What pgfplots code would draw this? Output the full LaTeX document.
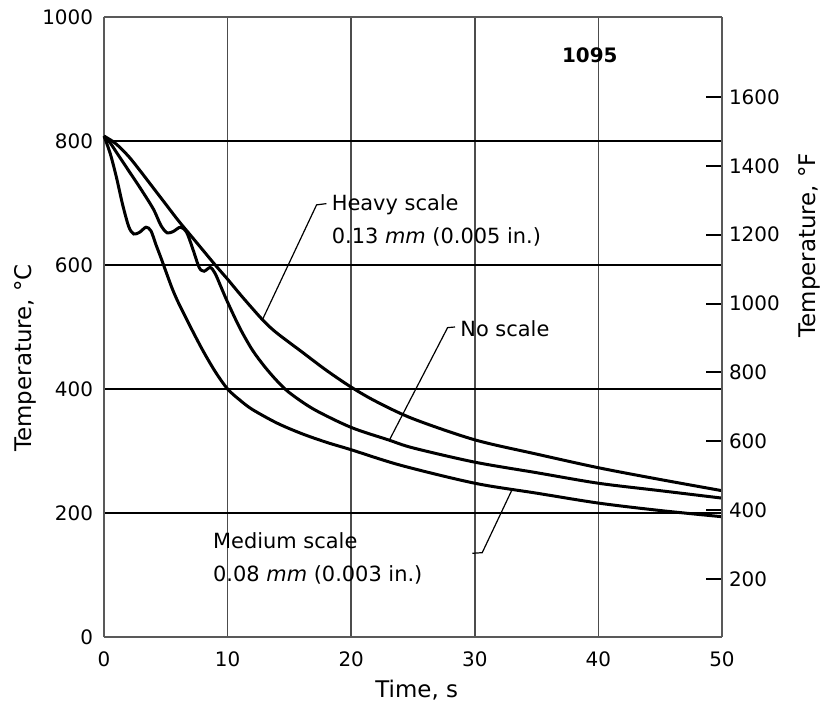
\documentclass[border=0pt]{standalone}
\usepackage{fontspec}
\setmainfont{DejaVu Sans}
\usepackage{pgfplots}
\pgfplotsset{compat=1.18}

\begin{document}
\begin{tikzpicture}
\path[use as bounding box] (-52bp,-38bp) rectangle (363.5bp,318.5bp);
\begin{axis}[
  scale only axis, width=309bp, height=310bp,
  xmin=0, xmax=50, ymin=0, ymax=1000,
  xtick={0,10,...,50}, ytick={0,200,...,1000},
  axis y line*=left, axis x line*=box,
  axis line style={black!65, line width=0.8bp},
  major tick length=0pt,
  tick label style={font=\fontsize{10}{12}\selectfont},
  xticklabel style={yshift=-4bp},
  yticklabel style={xshift=-2bp},
  /pgf/number format/assume math mode=true,
  /pgf/number format/1000 sep={},
  xmajorgrids, ymajorgrids,
  major grid style={black!70, line width=0.9bp},
  every axis y grid/.style={solid, black, line width=0.9bp},
  xlabel={Time, s}, ylabel={Temperature, °C},
  label style={font=\fontsize{11.5}{13}\selectfont},
  xlabel style={at={(axis description cs:0.506,-0.085)}, anchor=center},
  ylabel style={at={(axis description cs:-0.128,0.45)}, anchor=center},
  clip=false,
]
% medium scale (fastest)
\addplot[black, line width=1.5bp, smooth] coordinates {
 (0,808) (0.5,780) (1,742) (1.5,698) (2,662) (2.4,650) (2.9,653) (3.4,661)
 (3.8,655) (4.2,633) (4.6,612) (5,590) (5.5,563) (6,540) (7,500) (8,462)
 (9,428) (10,400) (11,382) (12,367) (14,345) (16,328) (18,314) (20,302)
 (24,277) (30,248) (35,232) (40,216) (45,204) (50,194)};
% no scale
\addplot[black, line width=1.5bp, smooth] coordinates {
 (0,808) (0.5,797) (1,782) (2,752) (3,722) (4,690) (4.6,664) (5.1,652)
 (5.6,654) (6.2,661) (6.7,652) (7.2,625) (7.7,596) (8.1,590) (8.6,596)
 (9,586) (9.5,563) (10,540) (11,498) (12,463) (13,436) (14,413) (15,394)
 (17,367) (20,338) (23,318) (25,305) (30,282) (35,265) (40,248) (45,236) (50,224)};
% heavy scale
\addplot[black, line width=1.5bp, smooth] coordinates {
 (0,808) (0.5,802) (1,795) (2,775) (3,750) (4,724) (5,698) (6,672) (7,648)
 (8,624) (9,600) (10,577) (11,553) (12,530) (13,508) (14,490) (16,460)
 (18,430) (20,403) (22,380) (25,352) (30,318) (35,295) (40,273) (45,254) (50,236)};

\draw[black, line width=0.6bp] (18.0,699) -- (17.2,697) -- (12.8,511);
\draw[black, line width=0.6bp] (28.4,500) -- (27.8,499) -- (23.1,318);
\draw[black, line width=0.6bp] (29.8,135) -- (30.6,136) -- (33.0,237);

\begin{scope}[every node/.style={anchor=west, inner sep=0pt, font=\fontsize{10.5}{12}\selectfont}]
\node at (axis cs:18.4,697) {Heavy scale};
\node at (axis cs:18.4,645) {0.13 \textit{mm} (0.005 in.)};
\node at (axis cs:28.8,498) {No scale};
\node at (axis cs:8.8,156) {Medium scale};
\node at (axis cs:8.8,100) {0.08 \textit{mm} (0.003 in.)};
\end{scope}
\node[font=\bfseries\fontsize{10}{12}\selectfont] at (axis cs:39.3,939) {1095};
\end{axis}
\begin{axis}[
  scale only axis, width=309bp, height=310bp,
  xmin=0, xmax=50, ymin=32, ymax=1832,
  axis y line*=right, axis x line=none,
  axis line style={black!65, line width=0.8bp},
  ytick={200,400,...,1600},
  ytick style={black, line width=1bp},
  tick align=inside, major tick length=8bp,
  tick label style={font=\fontsize{10}{12}\selectfont},
  /pgf/number format/assume math mode=true,
  /pgf/number format/1000 sep={},
  ylabel={Temperature, °F},
  label style={font=\fontsize{11.5}{13}\selectfont},
  ylabel style={at={(axis description cs:1.142,0.632)}, anchor=center, rotate=0},
]
\end{axis}
\end{tikzpicture}
\end{document}
